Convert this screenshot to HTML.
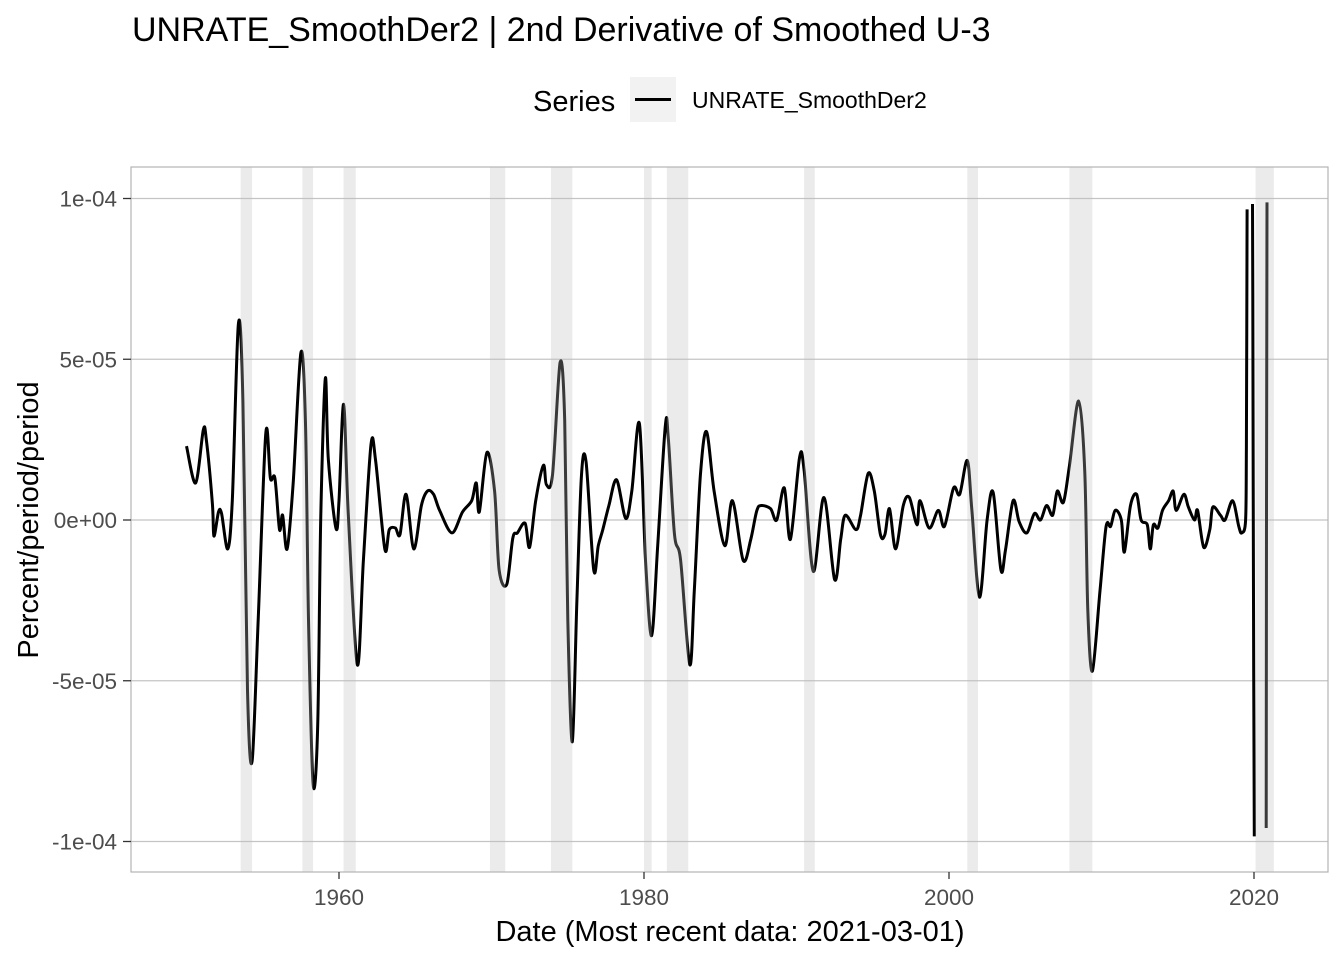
<!DOCTYPE html>
<html><head><meta charset="utf-8"><style>
body{margin:0;background:#fff;font-family:"Liberation Sans",Arial,sans-serif}
svg{display:block}
</style></head><body>
<svg id="chart" width="1344" height="960" xmlns="http://www.w3.org/2000/svg">
<text x="132" y="41" font-size="34" fill="#000">UNRATE_SmoothDer2 | 2nd Derivative of Smoothed U-3</text>
<g>
<text x="533" y="111" font-size="29" fill="#000">Series</text>
<rect x="630" y="77" width="46" height="45" fill="#f2f2f2"/>
<line x1="635" y1="99.5" x2="671" y2="99.5" stroke="#000" stroke-width="3"/>
<text x="692" y="108" font-size="23" fill="#000">UNRATE_SmoothDer2</text>
</g>
<g id="grid"></g>
<g id="series"></g>
<g id="bands"></g>
<rect x="131" y="167" width="1197" height="705" fill="none" stroke="#b3b3b3" stroke-width="1.2"/>
<g id="axes"></g>
<text x="730" y="941" font-size="29" text-anchor="middle" fill="#000">Date (Most recent data: 2021-03-01)</text>
<text transform="translate(38,520) rotate(-90)" font-size="29" text-anchor="middle" fill="#000">Percent/period/period</text>
</svg>
<script>
const years=[1950.0,1950.6,1951.1,1951.3,1951.7,1951.8,1952.1,1952.3,1952.7,1953.0,1953.4,1953.7,1954.0,1954.3,1954.7,1955.2,1955.5,1955.8,1956.1,1956.3,1956.6,1957.0,1957.5,1957.8,1958.0,1958.3,1958.6,1958.8,1959.1,1959.3,1959.8,1960.0,1960.3,1960.6,1961.2,1961.6,1962.1,1962.4,1963.0,1963.3,1963.7,1964.0,1964.4,1964.9,1965.4,1965.8,1966.2,1966.6,1967.4,1968.1,1968.7,1969.0,1969.2,1969.7,1970.2,1970.5,1971.0,1971.4,1971.7,1972.2,1972.5,1972.9,1973.4,1973.6,1974.0,1974.5,1974.8,1975.0,1975.3,1975.6,1975.9,1976.2,1976.7,1977.0,1977.3,1977.7,1978.2,1978.8,1979.2,1979.7,1980.1,1980.5,1980.9,1981.4,1981.6,1982.0,1982.4,1983.0,1983.3,1983.7,1984.1,1984.6,1985.3,1985.8,1986.5,1987.0,1987.4,1987.7,1988.3,1988.7,1989.2,1989.6,1990.2,1990.5,1991.1,1991.8,1992.5,1992.9,1993.2,1993.9,1994.2,1994.7,1995.1,1995.5,1995.8,1996.1,1996.5,1997.0,1997.4,1997.9,1998.1,1998.7,1999.3,1999.7,2000.3,2000.7,2001.2,2001.5,2002.0,2002.5,2002.9,2003.4,2003.7,2004.2,2004.6,2005.1,2005.6,2006.0,2006.4,2006.8,2007.1,2007.5,2007.9,2008.5,2008.9,2009.1,2009.4,2009.9,2010.3,2010.6,2010.9,2011.3,2011.5,2011.9,2012.3,2012.6,2013.0,2013.2,2013.4,2013.7,2014.0,2014.4,2014.7,2014.9,2015.4,2015.7,2016.1,2016.3,2016.7,2017.1,2017.3,2017.8,2018.1,2018.6,2019.0,2019.2,2019.45,2019.5,2019.55,2019.7,2019.9,2019.92,2019.95,2019.98,2020.02,2020.4,2020.8,2020.82,2020.85];
const values=[2.3,1.15,2.8,2.5,0.5,-0.5,0.25,0.2,-0.9,0.6,6.1,3.7,-5.3,-7.5,-3.1,2.7,1.3,1.3,-0.3,0.15,-0.9,1.2,5.2,3.1,-3.1,-8.2,-6.5,0,4.4,1.9,-0.25,0.6,3.6,0.3,-4.5,-1.25,2.35,1.85,-0.9,-0.3,-0.25,-0.45,0.8,-0.9,0.45,0.9,0.8,0.3,-0.4,0.25,0.6,1.15,0.25,2.1,0.9,-1.55,-2.0,-0.55,-0.4,-0.1,-0.85,0.6,1.7,1.1,1.4,4.9,3.1,-3.1,-6.9,-2.5,1.4,1.8,-1.55,-0.8,-0.3,0.45,1.25,0.05,0.9,3.0,-1.25,-3.6,-0.8,2.95,2.5,-0.45,-1.25,-4.5,-2.2,1.4,2.75,0.9,-0.8,0.6,-1.25,-0.6,0.3,0.45,0.35,0,1.0,-0.6,1.95,1.55,-1.6,0.7,-1.85,-0.6,0.15,-0.3,0.15,1.45,0.9,-0.45,-0.45,0.35,-0.9,0.45,0.7,-0.15,0.6,-0.25,0.3,-0.2,1.0,0.8,1.85,0.3,-2.4,0,0.85,-1.55,-0.95,0.6,-0.05,-0.4,0.2,0,0.45,0.15,0.9,0.55,1.7,3.7,1.55,-2.8,-4.7,-2.2,-0.2,-0.2,0.3,0,-1.0,0.45,0.8,0,-0.15,-0.9,-0.15,-0.25,0.3,0.6,0.9,0.3,0.8,0.4,0,0.3,-0.85,-0.3,0.4,0.15,0,0.6,-0.2,-0.4,0,2.3,9.66,null,9.83,7.0,1.0,-4.8,-9.84,null,-9.58,0.37,9.88];
const bandStart=[1953.55,1957.6,1960.3,1969.9,1973.9,1980.0,1981.5,1990.5,2001.2,2007.9,2020.1];
const bandEnd=[1954.3,1958.3,1961.1,1970.9,1975.3,1980.5,1982.9,1991.2,2001.9,2009.4,2021.3];
const yTicks=[10,5,0,-5,-10];
const yTickLabels=["1e-04","5e-05","0e+00","-5e-05","-1e-04"];
const xTicks=[1960,1980,2000,2020];

const NS="http://www.w3.org/2000/svg";
const X=y=>339+(y-1960)*15.25;
const Y=v=>520-v*32.15;
function mk(tag,attrs,parent){const e=document.createElementNS(NS,tag);for(const k in attrs)e.setAttribute(k,attrs[k]);document.getElementById(parent).appendChild(e);return e;}

yTicks.forEach((t,i)=>{
  const g=mk('line',{x1:131,x2:1328,y1:Y(t),y2:Y(t),stroke:'#c4c4c4','stroke-width':1.3},'grid');
  
  
  const tk=mk('line',{x1:123,x2:131,y1:Y(t),y2:Y(t),stroke:'#333','stroke-width':1.3},'axes');
  
  
  const l=mk('text',{x:117,y:Y(t)+8,'font-size':22.5,fill:'#4d4d4d','text-anchor':'end'},'axes');
  l.textContent=yTickLabels[i];
  
  
});
xTicks.forEach(t=>{
  const tk=mk('line',{x1:X(t),x2:X(t),y1:872,y2:879,stroke:'#333','stroke-width':1.3},'axes');
  
  
  const l=mk('text',{x:X(t),y:905,'font-size':22.5,fill:'#4d4d4d','text-anchor':'middle'},'axes');
  l.textContent=String(t);
  
  
});
// split into segments, smooth main segment with Catmull-Rom
const segs=[];let cur=[];
years.forEach((yr,i)=>{
  const v=values[i];
  if(v===null){if(cur.length)segs.push(cur);cur=[];return;}
  cur.push([X(yr),Y(v)]);
});
if(cur.length)segs.push(cur);
let d='';
segs.forEach((s,si)=>{
  d+='M'+s[0][0].toFixed(1)+','+s[0][1].toFixed(1);
  const smooth=s.length>20;
  for(let i=1;i<s.length;i++){
    if(!smooth){d+='L'+s[i][0].toFixed(1)+','+s[i][1].toFixed(1);continue;}
    const p0=s[Math.max(0,i-2)],p1=s[i-1],p2=s[i],p3=s[Math.min(s.length-1,i+1)];
    const k=0.4/2*1.2;
    const c1=[p1[0]+(p2[0]-p0[0])*k/1.2*0.8,p1[1]+(p2[1]-p0[1])*k/1.2*0.8];
    const c2=[p2[0]-(p3[0]-p1[0])*k/1.2*0.8,p2[1]-(p3[1]-p1[1])*k/1.2*0.8];
    d+='C'+c1[0].toFixed(1)+','+c1[1].toFixed(1)+' '+c2[0].toFixed(1)+','+c2[1].toFixed(1)+' '+p2[0].toFixed(1)+','+p2[1].toFixed(1);
  }
});
const p=mk('path',{d:d,fill:'none',stroke:'#000','stroke-width':3,'stroke-linejoin':'round'},'series');


bandStart.forEach((s,i)=>{
  const r=mk('rect',{x:X(s),y:167,width:X(bandEnd[i])-X(s),height:705,fill:'rgb(190,190,190)','fill-opacity':0.3},'bands');
  
  
});
</script>
</body></html>
